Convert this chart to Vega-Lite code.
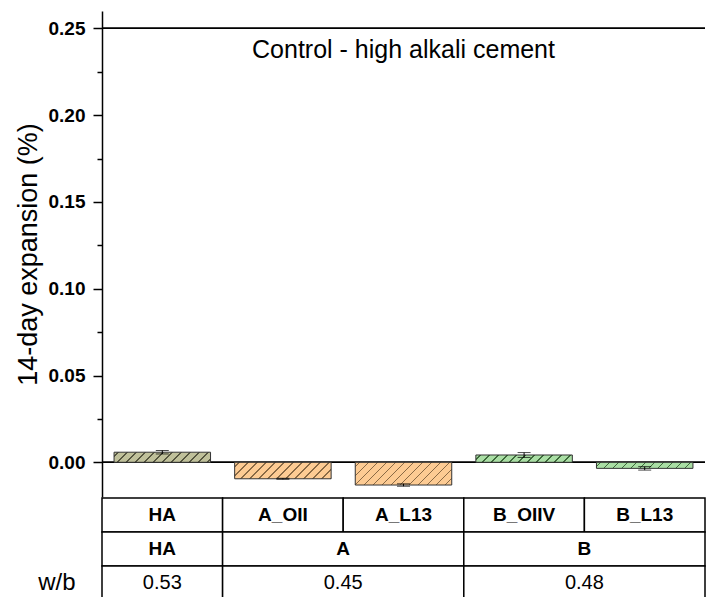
{
  "$schema": "https://vega.github.io/schema/vega-lite/v6.json",
  "padding": {"left": 14, "top": 11, "right": 2, "bottom": 0},
  "spacing": 0,
  "config": {
    "font": "Liberation Sans",
    "view": {"stroke": null},
    "concat": {"spacing": 0}
  },
  "vconcat": [
    {
      "width": 603,
      "height": 486,
      "data": {
        "values": [
          {"sample": "HA", "group": "HA", "value": 0.0058, "lo": 0.0048, "hi": 0.0068},
          {"sample": "A_OII", "group": "A", "value": -0.0095, "lo": -0.0098, "hi": -0.0092},
          {"sample": "A_L13", "group": "A", "value": -0.0131, "lo": -0.0138, "hi": -0.0124},
          {"sample": "B_OIIV", "group": "B", "value": 0.0042, "lo": 0.0028, "hi": 0.0056},
          {"sample": "B_L13", "group": "B", "value": -0.0035, "lo": -0.0045, "hi": -0.0025}
        ]
      },
      "layer": [
        {
          "mark": {"type": "rule", "color": "black", "strokeWidth": 1.2},
          "encoding": {"y": {"datum": 0.25}}
        },
        {
          "mark": {"type": "rule", "color": "black", "strokeWidth": 1.2},
          "encoding": {"y": {"datum": 0}}
        },
        {
          "mark": {"type": "bar", "stroke": "#333333", "strokeWidth": 1},
          "encoding": {
            "x": {
              "field": "sample", "type": "nominal",
              "sort": ["HA", "A_OII", "A_L13", "B_OIIV", "B_L13"],
              "scale": {"paddingInner": 0.2, "paddingOuter": 0.1},
              "axis": null
            },
            "y": {
              "field": "value", "type": "quantitative",
              "title": "14-day expansion (%)",
              "scale": {"domain": [-0.02, 0.26], "nice": false, "zero": false},
              "axis": {
                "values": [0, 0.025, 0.05, 0.075, 0.1, 0.125, 0.15, 0.175, 0.2, 0.225, 0.25],
                "labelExpr": "round(datum.value*1000) % 50 === 0 ? format(datum.value, '.2f') : ''",
                "tickSize": {"condition": {"test": "round(datum.value*1000) % 50 === 0", "value": 9}, "value": 5},
                "grid": false,
                "labelOverlap": false,
                "domainColor": "black",
                "domainWidth": 1.5,
                "tickColor": "black",
                "tickWidth": 1.5,
                "labelFontSize": 19,
                "labelFontWeight": "bold",
                "labelColor": "black",
                "labelPadding": 8,
                "titleFontSize": 27,
                "titleFontWeight": "normal",
                "titleColor": "black",
                "titlePadding": 6
              }
            },
            "fill": {
              "condition": [
                {"test": "datum.sample === 'HA'", "value": {"gradient": "linear", "x1": 0, "y1": 0, "x2": 1.2304, "y2": 0.1284, "stops": [
                  {"offset": 0.03, "color": "#bfc09a"}, {"offset": 0.03, "color": "#55553f"}, {"offset": 0.043, "color": "#55553f"}, {"offset": 0.043, "color": "#bfc09a"},
                  {"offset": 0.105, "color": "#bfc09a"}, {"offset": 0.105, "color": "#55553f"}, {"offset": 0.118, "color": "#55553f"}, {"offset": 0.118, "color": "#bfc09a"},
                  {"offset": 0.18, "color": "#bfc09a"}, {"offset": 0.18, "color": "#55553f"}, {"offset": 0.193, "color": "#55553f"}, {"offset": 0.193, "color": "#bfc09a"},
                  {"offset": 0.255, "color": "#bfc09a"}, {"offset": 0.255, "color": "#55553f"}, {"offset": 0.268, "color": "#55553f"}, {"offset": 0.268, "color": "#bfc09a"},
                  {"offset": 0.33, "color": "#bfc09a"}, {"offset": 0.33, "color": "#55553f"}, {"offset": 0.343, "color": "#55553f"}, {"offset": 0.343, "color": "#bfc09a"},
                  {"offset": 0.405, "color": "#bfc09a"}, {"offset": 0.405, "color": "#55553f"}, {"offset": 0.418, "color": "#55553f"}, {"offset": 0.418, "color": "#bfc09a"},
                  {"offset": 0.48, "color": "#bfc09a"}, {"offset": 0.48, "color": "#55553f"}, {"offset": 0.493, "color": "#55553f"}, {"offset": 0.493, "color": "#bfc09a"},
                  {"offset": 0.555, "color": "#bfc09a"}, {"offset": 0.555, "color": "#55553f"}, {"offset": 0.568, "color": "#55553f"}, {"offset": 0.568, "color": "#bfc09a"},
                  {"offset": 0.63, "color": "#bfc09a"}, {"offset": 0.63, "color": "#55553f"}, {"offset": 0.643, "color": "#55553f"}, {"offset": 0.643, "color": "#bfc09a"},
                  {"offset": 0.705, "color": "#bfc09a"}, {"offset": 0.705, "color": "#55553f"}, {"offset": 0.718, "color": "#55553f"}, {"offset": 0.718, "color": "#bfc09a"},
                  {"offset": 0.78, "color": "#bfc09a"}, {"offset": 0.78, "color": "#55553f"}, {"offset": 0.793, "color": "#55553f"}, {"offset": 0.793, "color": "#bfc09a"},
                  {"offset": 0.855, "color": "#bfc09a"}, {"offset": 0.855, "color": "#55553f"}, {"offset": 0.868, "color": "#55553f"}, {"offset": 0.868, "color": "#bfc09a"},
                  {"offset": 0.93, "color": "#bfc09a"}, {"offset": 0.93, "color": "#55553f"}, {"offset": 0.943, "color": "#55553f"}, {"offset": 0.943, "color": "#bfc09a"}
                ]}},
                {"test": "datum.sample === 'A_OII'", "value": {"gradient": "linear", "x1": 0, "y1": 0, "x2": 1.2085, "y2": 0.2065, "stops": [
                  {"offset": 0.03, "color": "#fdcb93"}, {"offset": 0.03, "color": "#8a6a45"}, {"offset": 0.043, "color": "#8a6a45"}, {"offset": 0.043, "color": "#fdcb93"},
                  {"offset": 0.105, "color": "#fdcb93"}, {"offset": 0.105, "color": "#8a6a45"}, {"offset": 0.118, "color": "#8a6a45"}, {"offset": 0.118, "color": "#fdcb93"},
                  {"offset": 0.18, "color": "#fdcb93"}, {"offset": 0.18, "color": "#8a6a45"}, {"offset": 0.193, "color": "#8a6a45"}, {"offset": 0.193, "color": "#fdcb93"},
                  {"offset": 0.255, "color": "#fdcb93"}, {"offset": 0.255, "color": "#8a6a45"}, {"offset": 0.268, "color": "#8a6a45"}, {"offset": 0.268, "color": "#fdcb93"},
                  {"offset": 0.33, "color": "#fdcb93"}, {"offset": 0.33, "color": "#8a6a45"}, {"offset": 0.343, "color": "#8a6a45"}, {"offset": 0.343, "color": "#fdcb93"},
                  {"offset": 0.405, "color": "#fdcb93"}, {"offset": 0.405, "color": "#8a6a45"}, {"offset": 0.418, "color": "#8a6a45"}, {"offset": 0.418, "color": "#fdcb93"},
                  {"offset": 0.48, "color": "#fdcb93"}, {"offset": 0.48, "color": "#8a6a45"}, {"offset": 0.493, "color": "#8a6a45"}, {"offset": 0.493, "color": "#fdcb93"},
                  {"offset": 0.555, "color": "#fdcb93"}, {"offset": 0.555, "color": "#8a6a45"}, {"offset": 0.568, "color": "#8a6a45"}, {"offset": 0.568, "color": "#fdcb93"},
                  {"offset": 0.63, "color": "#fdcb93"}, {"offset": 0.63, "color": "#8a6a45"}, {"offset": 0.643, "color": "#8a6a45"}, {"offset": 0.643, "color": "#fdcb93"},
                  {"offset": 0.705, "color": "#fdcb93"}, {"offset": 0.705, "color": "#8a6a45"}, {"offset": 0.718, "color": "#8a6a45"}, {"offset": 0.718, "color": "#fdcb93"},
                  {"offset": 0.78, "color": "#fdcb93"}, {"offset": 0.78, "color": "#8a6a45"}, {"offset": 0.793, "color": "#8a6a45"}, {"offset": 0.793, "color": "#fdcb93"},
                  {"offset": 0.855, "color": "#fdcb93"}, {"offset": 0.855, "color": "#8a6a45"}, {"offset": 0.868, "color": "#8a6a45"}, {"offset": 0.868, "color": "#fdcb93"},
                  {"offset": 0.93, "color": "#fdcb93"}, {"offset": 0.93, "color": "#8a6a45"}, {"offset": 0.943, "color": "#8a6a45"}, {"offset": 0.943, "color": "#fdcb93"}
                ]}},
                {"test": "datum.sample === 'A_L13'", "value": {"gradient": "linear", "x1": 0, "y1": 0, "x2": 1.1783, "y2": 0.2777, "stops": [
                  {"offset": 0.03, "color": "#fdcb93"}, {"offset": 0.03, "color": "#8a6a45"}, {"offset": 0.043, "color": "#8a6a45"}, {"offset": 0.043, "color": "#fdcb93"},
                  {"offset": 0.105, "color": "#fdcb93"}, {"offset": 0.105, "color": "#8a6a45"}, {"offset": 0.118, "color": "#8a6a45"}, {"offset": 0.118, "color": "#fdcb93"},
                  {"offset": 0.18, "color": "#fdcb93"}, {"offset": 0.18, "color": "#8a6a45"}, {"offset": 0.193, "color": "#8a6a45"}, {"offset": 0.193, "color": "#fdcb93"},
                  {"offset": 0.255, "color": "#fdcb93"}, {"offset": 0.255, "color": "#8a6a45"}, {"offset": 0.268, "color": "#8a6a45"}, {"offset": 0.268, "color": "#fdcb93"},
                  {"offset": 0.33, "color": "#fdcb93"}, {"offset": 0.33, "color": "#8a6a45"}, {"offset": 0.343, "color": "#8a6a45"}, {"offset": 0.343, "color": "#fdcb93"},
                  {"offset": 0.405, "color": "#fdcb93"}, {"offset": 0.405, "color": "#8a6a45"}, {"offset": 0.418, "color": "#8a6a45"}, {"offset": 0.418, "color": "#fdcb93"},
                  {"offset": 0.48, "color": "#fdcb93"}, {"offset": 0.48, "color": "#8a6a45"}, {"offset": 0.493, "color": "#8a6a45"}, {"offset": 0.493, "color": "#fdcb93"},
                  {"offset": 0.555, "color": "#fdcb93"}, {"offset": 0.555, "color": "#8a6a45"}, {"offset": 0.568, "color": "#8a6a45"}, {"offset": 0.568, "color": "#fdcb93"},
                  {"offset": 0.63, "color": "#fdcb93"}, {"offset": 0.63, "color": "#8a6a45"}, {"offset": 0.643, "color": "#8a6a45"}, {"offset": 0.643, "color": "#fdcb93"},
                  {"offset": 0.705, "color": "#fdcb93"}, {"offset": 0.705, "color": "#8a6a45"}, {"offset": 0.718, "color": "#8a6a45"}, {"offset": 0.718, "color": "#fdcb93"},
                  {"offset": 0.78, "color": "#fdcb93"}, {"offset": 0.78, "color": "#8a6a45"}, {"offset": 0.793, "color": "#8a6a45"}, {"offset": 0.793, "color": "#fdcb93"},
                  {"offset": 0.855, "color": "#fdcb93"}, {"offset": 0.855, "color": "#8a6a45"}, {"offset": 0.868, "color": "#8a6a45"}, {"offset": 0.868, "color": "#fdcb93"},
                  {"offset": 0.93, "color": "#fdcb93"}, {"offset": 0.93, "color": "#8a6a45"}, {"offset": 0.943, "color": "#8a6a45"}, {"offset": 0.943, "color": "#fdcb93"}
                ]}},
                {"test": "datum.sample === 'B_OIIV'", "value": {"gradient": "linear", "x1": 0, "y1": 0, "x2": 1.2367, "y2": 0.0934, "stops": [
                  {"offset": 0.03, "color": "#a9dea4"}, {"offset": 0.03, "color": "#3e6a3b"}, {"offset": 0.043, "color": "#3e6a3b"}, {"offset": 0.043, "color": "#a9dea4"},
                  {"offset": 0.105, "color": "#a9dea4"}, {"offset": 0.105, "color": "#3e6a3b"}, {"offset": 0.118, "color": "#3e6a3b"}, {"offset": 0.118, "color": "#a9dea4"},
                  {"offset": 0.18, "color": "#a9dea4"}, {"offset": 0.18, "color": "#3e6a3b"}, {"offset": 0.193, "color": "#3e6a3b"}, {"offset": 0.193, "color": "#a9dea4"},
                  {"offset": 0.255, "color": "#a9dea4"}, {"offset": 0.255, "color": "#3e6a3b"}, {"offset": 0.268, "color": "#3e6a3b"}, {"offset": 0.268, "color": "#a9dea4"},
                  {"offset": 0.33, "color": "#a9dea4"}, {"offset": 0.33, "color": "#3e6a3b"}, {"offset": 0.343, "color": "#3e6a3b"}, {"offset": 0.343, "color": "#a9dea4"},
                  {"offset": 0.405, "color": "#a9dea4"}, {"offset": 0.405, "color": "#3e6a3b"}, {"offset": 0.418, "color": "#3e6a3b"}, {"offset": 0.418, "color": "#a9dea4"},
                  {"offset": 0.48, "color": "#a9dea4"}, {"offset": 0.48, "color": "#3e6a3b"}, {"offset": 0.493, "color": "#3e6a3b"}, {"offset": 0.493, "color": "#a9dea4"},
                  {"offset": 0.555, "color": "#a9dea4"}, {"offset": 0.555, "color": "#3e6a3b"}, {"offset": 0.568, "color": "#3e6a3b"}, {"offset": 0.568, "color": "#a9dea4"},
                  {"offset": 0.63, "color": "#a9dea4"}, {"offset": 0.63, "color": "#3e6a3b"}, {"offset": 0.643, "color": "#3e6a3b"}, {"offset": 0.643, "color": "#a9dea4"},
                  {"offset": 0.705, "color": "#a9dea4"}, {"offset": 0.705, "color": "#3e6a3b"}, {"offset": 0.718, "color": "#3e6a3b"}, {"offset": 0.718, "color": "#a9dea4"},
                  {"offset": 0.78, "color": "#a9dea4"}, {"offset": 0.78, "color": "#3e6a3b"}, {"offset": 0.793, "color": "#3e6a3b"}, {"offset": 0.793, "color": "#a9dea4"},
                  {"offset": 0.855, "color": "#a9dea4"}, {"offset": 0.855, "color": "#3e6a3b"}, {"offset": 0.868, "color": "#3e6a3b"}, {"offset": 0.868, "color": "#a9dea4"},
                  {"offset": 0.93, "color": "#a9dea4"}, {"offset": 0.93, "color": "#3e6a3b"}, {"offset": 0.943, "color": "#3e6a3b"}, {"offset": 0.943, "color": "#a9dea4"}
                ]}},
                {"test": "datum.sample === 'B_L13'", "value": {"gradient": "linear", "x1": 0, "y1": 0, "x2": 1.2389, "y2": 0.0779, "stops": [
                  {"offset": 0.03, "color": "#a9dea4"}, {"offset": 0.03, "color": "#3e6a3b"}, {"offset": 0.043, "color": "#3e6a3b"}, {"offset": 0.043, "color": "#a9dea4"},
                  {"offset": 0.105, "color": "#a9dea4"}, {"offset": 0.105, "color": "#3e6a3b"}, {"offset": 0.118, "color": "#3e6a3b"}, {"offset": 0.118, "color": "#a9dea4"},
                  {"offset": 0.18, "color": "#a9dea4"}, {"offset": 0.18, "color": "#3e6a3b"}, {"offset": 0.193, "color": "#3e6a3b"}, {"offset": 0.193, "color": "#a9dea4"},
                  {"offset": 0.255, "color": "#a9dea4"}, {"offset": 0.255, "color": "#3e6a3b"}, {"offset": 0.268, "color": "#3e6a3b"}, {"offset": 0.268, "color": "#a9dea4"},
                  {"offset": 0.33, "color": "#a9dea4"}, {"offset": 0.33, "color": "#3e6a3b"}, {"offset": 0.343, "color": "#3e6a3b"}, {"offset": 0.343, "color": "#a9dea4"},
                  {"offset": 0.405, "color": "#a9dea4"}, {"offset": 0.405, "color": "#3e6a3b"}, {"offset": 0.418, "color": "#3e6a3b"}, {"offset": 0.418, "color": "#a9dea4"},
                  {"offset": 0.48, "color": "#a9dea4"}, {"offset": 0.48, "color": "#3e6a3b"}, {"offset": 0.493, "color": "#3e6a3b"}, {"offset": 0.493, "color": "#a9dea4"},
                  {"offset": 0.555, "color": "#a9dea4"}, {"offset": 0.555, "color": "#3e6a3b"}, {"offset": 0.568, "color": "#3e6a3b"}, {"offset": 0.568, "color": "#a9dea4"},
                  {"offset": 0.63, "color": "#a9dea4"}, {"offset": 0.63, "color": "#3e6a3b"}, {"offset": 0.643, "color": "#3e6a3b"}, {"offset": 0.643, "color": "#a9dea4"},
                  {"offset": 0.705, "color": "#a9dea4"}, {"offset": 0.705, "color": "#3e6a3b"}, {"offset": 0.718, "color": "#3e6a3b"}, {"offset": 0.718, "color": "#a9dea4"},
                  {"offset": 0.78, "color": "#a9dea4"}, {"offset": 0.78, "color": "#3e6a3b"}, {"offset": 0.793, "color": "#3e6a3b"}, {"offset": 0.793, "color": "#a9dea4"},
                  {"offset": 0.855, "color": "#a9dea4"}, {"offset": 0.855, "color": "#3e6a3b"}, {"offset": 0.868, "color": "#3e6a3b"}, {"offset": 0.868, "color": "#a9dea4"},
                  {"offset": 0.93, "color": "#a9dea4"}, {"offset": 0.93, "color": "#3e6a3b"}, {"offset": 0.943, "color": "#3e6a3b"}, {"offset": 0.943, "color": "#a9dea4"}
                ]}}
              ],
              "value": "#cccccc"
            }
          }
        },
        {
          "mark": {"type": "errorbar", "color": "black", "ticks": {"size": 13, "strokeWidth": 1}, "rule": {"strokeWidth": 1}},
          "encoding": {
            "x": {"field": "sample", "type": "nominal", "sort": ["HA", "A_OII", "A_L13", "B_OIIV", "B_L13"]},
            "y": {"field": "lo", "type": "quantitative", "title": "14-day expansion (%)"},
            "y2": {"field": "hi"}
          }
        },
        {
          "data": {"values": [{"label": "Control - high alkali cement"}]},
          "mark": {"type": "text", "fontSize": 25, "color": "black", "baseline": "middle", "align": "center"},
          "encoding": {
            "x": {"datum": "A_L13"},
            "y": {"datum": 0.2373},
            "text": {"field": "label"}
          }
        }
      ]
    },
    {
      "width": 603,
      "height": 102,
      "data": {
        "values": [
          {"row": "r1", "c0": 0, "c1": 1, "mid": 0.5, "label": "HA"},
          {"row": "r1", "c0": 1, "c1": 2, "mid": 1.5, "label": "A_OII"},
          {"row": "r1", "c0": 2, "c1": 3, "mid": 2.5, "label": "A_L13"},
          {"row": "r1", "c0": 3, "c1": 4, "mid": 3.5, "label": "B_OIIV"},
          {"row": "r1", "c0": 4, "c1": 5, "mid": 4.5, "label": "B_L13"},
          {"row": "r2", "c0": 0, "c1": 1, "mid": 0.5, "label": "HA"},
          {"row": "r2", "c0": 1, "c1": 3, "mid": 2, "label": "A"},
          {"row": "r2", "c0": 3, "c1": 5, "mid": 4, "label": "B"},
          {"row": "r3", "c0": 0, "c1": 1, "mid": 0.5, "label": "0.53"},
          {"row": "r3", "c0": 1, "c1": 3, "mid": 2, "label": "0.45"},
          {"row": "r3", "c0": 3, "c1": 5, "mid": 4, "label": "0.48"}
        ]
      },
      "encoding": {
        "y": {
          "field": "row", "type": "ordinal",
          "scale": {"domain": ["r1", "r2", "r3"], "paddingInner": 0, "paddingOuter": 0},
          "axis": {
            "title": null, "domain": false, "ticks": false,
            "labelExpr": "datum.value === 'r3' ? 'w/b' : ''",
            "labelFontSize": 24, "labelColor": "black", "labelPadding": 27
          }
        }
      },
      "layer": [
        {
          "mark": {"type": "rect", "fill": "white", "stroke": "black", "strokeWidth": 1.5},
          "encoding": {
            "x": {"field": "c0", "type": "quantitative", "scale": {"domain": [0, 5], "nice": false}, "axis": null},
            "x2": {"field": "c1"}
          }
        },
        {
          "transform": [{"filter": "datum.row !== 'r3'"}],
          "mark": {"type": "text", "fontSize": 19, "fontWeight": "bold", "color": "black"},
          "encoding": {
            "x": {"field": "mid", "type": "quantitative"},
            "text": {"field": "label"}
          }
        },
        {
          "transform": [{"filter": "datum.row === 'r3'"}],
          "mark": {"type": "text", "fontSize": 20, "color": "black"},
          "encoding": {
            "x": {"field": "mid", "type": "quantitative"},
            "text": {"field": "label"}
          }
        }
      ]
    }
  ]
}
